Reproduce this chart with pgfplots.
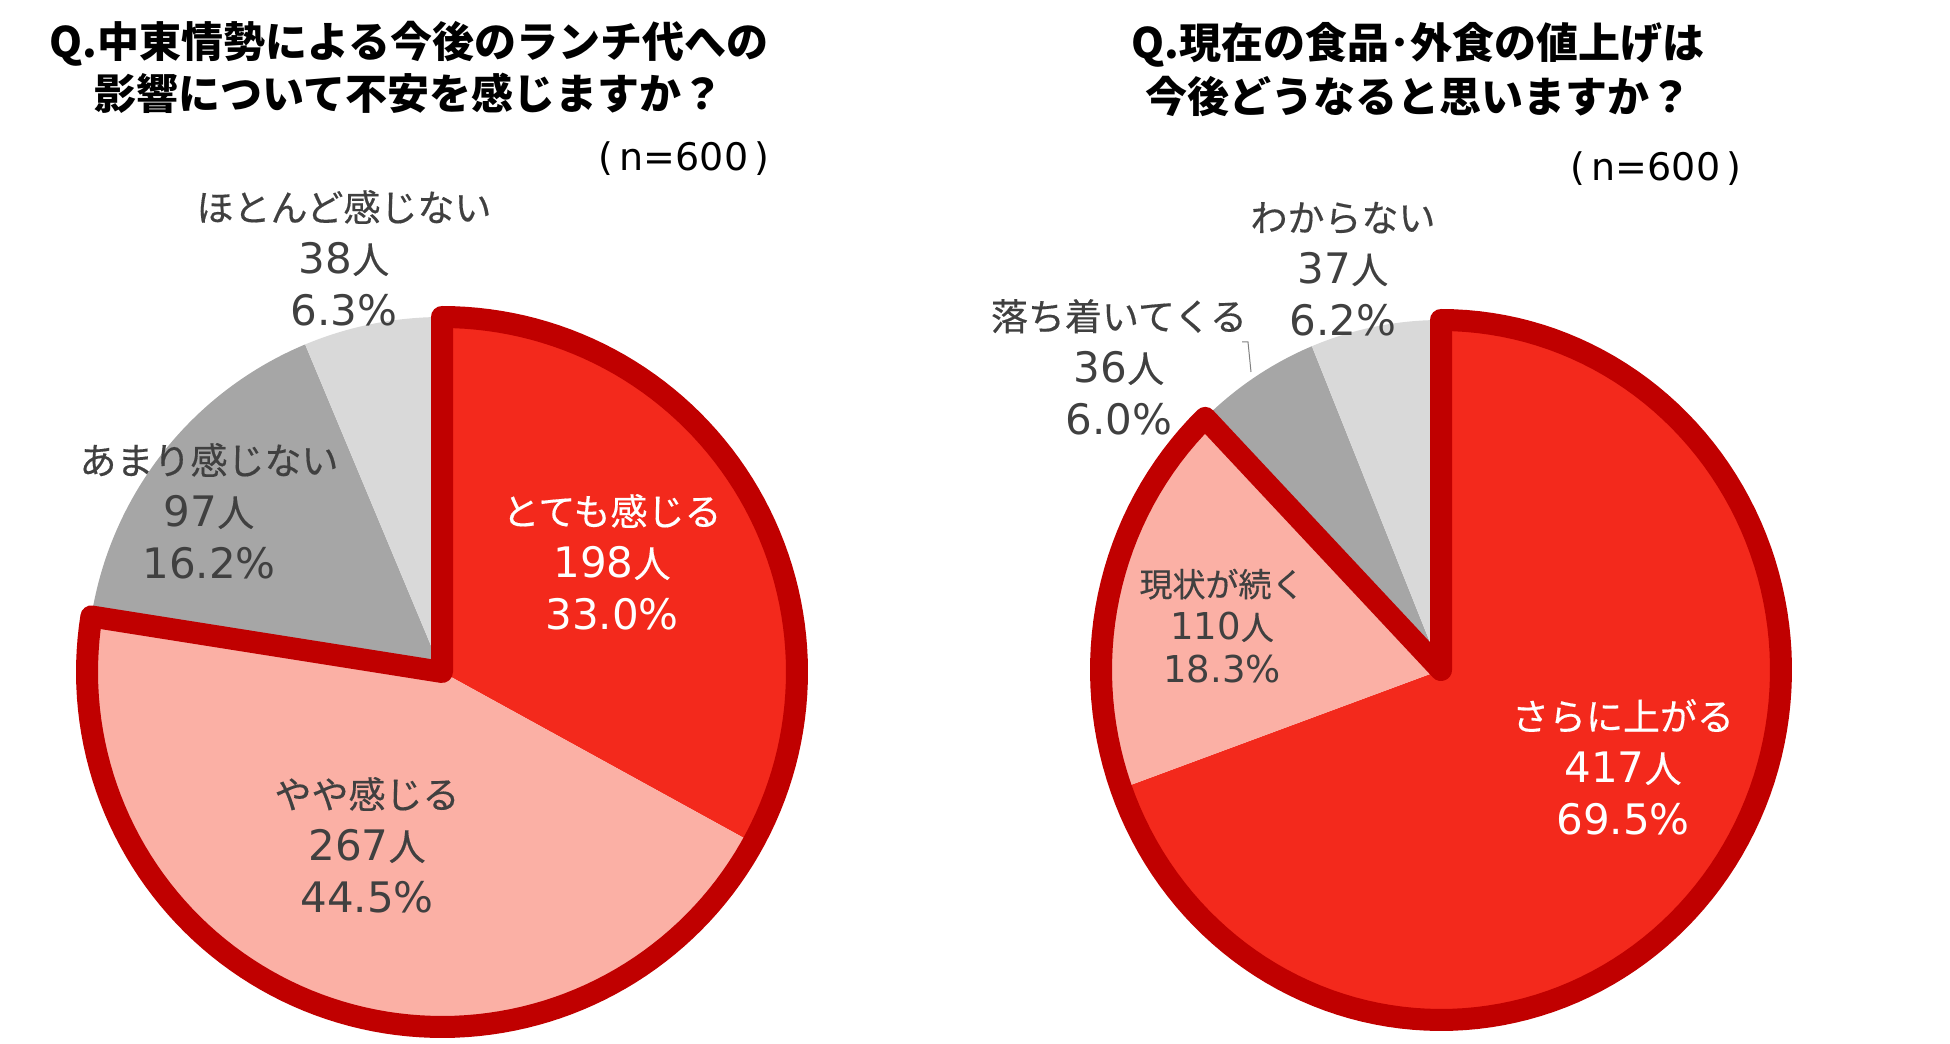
\documentclass[border=0pt]{standalone}
\usepackage{pgfplots}
\pgfplotsset{compat=1.18}
\usepackage{fontspec}
\setmainfont{Noto Sans CJK JP}
\newfontfamily\labfont{Noto Sans CJK JP}[FakeBold=0.4]
\newfontfamily\numfont{DejaVu Sans}
\definecolor{cRed}{HTML}{F3291C}
\definecolor{cPink}{HTML}{FBB0A5}
\definecolor{cDark}{HTML}{C00000}
\definecolor{cGrey}{HTML}{A6A6A6}
\definecolor{cLight}{HTML}{D9D9D9}
\definecolor{cText}{HTML}{404040}
\newcommand\num[1]{{\numfont\fontsize{21}{26}\selectfont #1}}
\newcommand\snum[1]{{\numfont\fontsize{18.5}{21.5}\selectfont #1}}
% data (percent)
\def\LA{33.0}\def\LB{44.5}\def\LC{16.2}\def\LD{6.3}
\def\RA{69.5}\def\RB{18.3}\def\RC{6.0}\def\RD{6.2}
\begin{document}
\begin{tikzpicture}
\begin{axis}[scale only axis, width=975pt, height=522pt,
  xmin=0, xmax=1950, ymin=0, ymax=1044, hide axis, clip=false, samples=150]
\path (axis cs:0,0) rectangle (axis cs:1950,1044);
% ---- left pie
\addplot[fill=cRed, draw=none, domain={90-3.6*\LA}:90] ({442+355*cos(x)},{372+355*sin(x)}) -- (axis cs:442,372) -- cycle;
\addplot[fill=cPink, draw=none, domain={90-3.6*(\LA+\LB)}:{90-3.6*\LA}] ({442+355*cos(x)},{372+355*sin(x)}) -- (axis cs:442,372) -- cycle;
\addplot[fill=cGrey, draw=none, domain={90-3.6*(\LA+\LB+\LC)}:{90-3.6*(\LA+\LB)}] ({442+355*cos(x)},{372+355*sin(x)}) -- (axis cs:442,372) -- cycle;
\addplot[fill=cLight, draw=none, domain={90-3.6*(\LA+\LB+\LC+\LD)}:{90-3.6*(\LA+\LB+\LC)}] ({442+355*cos(x)},{372+355*sin(x)}) -- (axis cs:442,372) -- cycle;
\addplot[draw=cDark, line width=11pt, line join=round, domain={90-3.6*(\LA+\LB)}:90] ({442+355*cos(x)},{372+355*sin(x)}) -- (axis cs:442,372) -- cycle;
% ---- right pie
\addplot[fill=cRed, draw=none, domain={90-3.6*\RA}:90] ({1441+340*cos(x)},{374+350*sin(x)}) -- (axis cs:1441,374) -- cycle;
\addplot[fill=cPink, draw=none, domain={90-3.6*(\RA+\RB)}:{90-3.6*\RA}] ({1441+340*cos(x)},{374+350*sin(x)}) -- (axis cs:1441,374) -- cycle;
\addplot[fill=cGrey, draw=none, domain={90-3.6*(\RA+\RB+\RC)}:{90-3.6*(\RA+\RB)}] ({1441+340*cos(x)},{374+350*sin(x)}) -- (axis cs:1441,374) -- cycle;
\addplot[fill=cLight, draw=none, domain={90-3.6*(\RA+\RB+\RC+\RD)}:{90-3.6*(\RA+\RB+\RC)}] ({1441+340*cos(x)},{374+350*sin(x)}) -- (axis cs:1441,374) -- cycle;
\addplot[draw=cDark, line width=11pt, line join=round, domain={90-3.6*(\RA+\RB)}:90] ({1441+340*cos(x)},{374+350*sin(x)}) -- (axis cs:1441,374) -- cycle;
% leader line
\addplot[draw=gray, line width=0.5pt] coordinates {(1242,702) (1248,702) (1251,672)};
% ---- titles
\node[font=\bfseries\fontsize{21}{26}\selectfont, align=center] at (axis cs:409,977) {Q.中東情勢による今後のランチ代への\\影響について不安を感じますか？};
\node[font=\bfseries\fontsize{21}{27}\selectfont, align=center] at (axis cs:1418,974) {Q.現在の食品･外食の値上げは\\今後どうなると思いますか？};
\node[font=\numfont\fontsize{19}{22}\selectfont] at (axis cs:684,885) {(\,n=600\,)};
\node[font=\numfont\fontsize{19}{22}\selectfont] at (axis cs:1656,875) {(\,n=600\,)};
% ---- labels
\begin{scope}[every node/.style={align=center, text=cText, font=\labfont\fontsize{18.5}{26}\selectfont}]
\node at (axis cs:344,786) {ほとんど感じない\\\num{38}人\\\num{6.3\%}};
\node at (axis cs:209,533) {あまり感じない\\\num{97}人\\\num{16.2\%}};
\node[text=white] at (axis cs:612,482) {とても感じる\\\num{198}人\\\num{33.0\%}};
\node at (axis cs:367,199) {やや感じる\\\num{267}人\\\num{44.5\%}};
\node at (axis cs:1343,775) {わからない\\\num{37}人\\\num{6.2\%}};
\node at (axis cs:1119,677) {落ち着いてくる\\\num{36}人\\\num{6.0\%}};
\node[font=\labfont\fontsize{16.5}{21.5}\selectfont] at (axis cs:1222,418) {現状が続く\\\snum{110}人\\\snum{18.3\%}};
\node[text=white] at (axis cs:1623,277) {さらに上がる\\\num{417}人\\\num{69.5\%}};
\end{scope}
\end{axis}
\end{tikzpicture}
\end{document}
